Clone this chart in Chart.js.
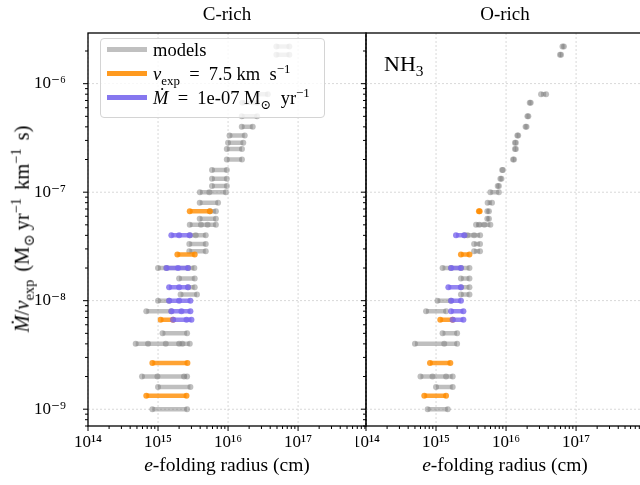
<!DOCTYPE html>
<html>
<head>
<meta charset="utf-8">
<script src="https://cdn.jsdelivr.net/npm/chart.js@4.4.1/dist/chart.umd.min.js"></script>
<style>
  body { margin: 0; width: 640px; height: 485px; overflow: hidden; position: relative; background: #fff;
         font-family: "Liberation Serif", "DejaVu Serif", serif; color: #000; }
  canvas { position: absolute; top: 0; }
  #cL { left: 0; }
  #cR { left: 356px; }
  .t { position: absolute; white-space: nowrap; font-size: 19px; line-height: 1; }
  .c { transform: translateX(-50%); }
  sub, sup { font-size: 70%; line-height: 0; }
  #legend { position: absolute; left: 100px; top: 38px; width: 225px; height: 80px; box-sizing: border-box;
            border: 1px solid #d4d4d4; border-radius: 4px; background: rgba(255,255,255,0.8); z-index: 5; }
  #legend .ln { position: absolute; left: 6px; width: 40px; height: 5px; }
  #legend .t { left: 52px; font-size: 18.5px; }
  #ylab { position: absolute; left: 22px; top: 229px; transform: translate(-50%, -50%) rotate(-90deg);
          white-space: nowrap; font-size: 20.5px; line-height: 1; word-spacing: 3px; }
</style>
</head>
<body>
<canvas id="cL" width="372" height="485"></canvas>
<canvas id="cR" width="300" height="485"></canvas>

<div class="t c" style="left:227px;top:4px">C-rich</div>
<div class="t c" style="left:505px;top:4px">O-rich</div>
<div class="t c" style="left:227px;top:455px;font-size:19.5px"><i>e</i>-folding radius (cm)</div>
<div class="t c" style="left:505px;top:455px;font-size:19.5px"><i>e</i>-folding radius (cm)</div>
<div id="ylab"><i>Ṁ</i>/<i>v</i><sub>exp</sub> (M<sub>⊙</sub>&thinsp;yr<sup>−1</sup> km<sup>−1</sup> s)</div>
<div class="t" style="left:384px;top:53px;font-size:22px">NH<sub>3</sub></div>

<div id="legend">
  <div class="ln" style="top:7.5px;background:#c0c0c0"></div>
  <div class="t" style="top:1.5px">models</div>
  <div class="ln" style="top:31.5px;background:#ff9a1f"></div>
  <div class="t" style="top:25.5px"><i>v</i><sub>exp</sub>&ensp;=&ensp;7.5 km&ensp;s<sup>−1</sup></div>
  <div class="ln" style="top:55.5px;background:#8677ef"></div>
  <div class="t" style="top:49.5px"><i>Ṁ</i>&ensp;=&ensp;1e-07 M<sub>⊙</sub>&ensp;yr<sup>−1</sup></div>
</div>

<script>
// Mdot/vexp of each model row (Msun/yr per km/s)
const modelY = [1e-9, 1.6e-9, 2e-9, 4e-9, 5e-9, 8e-9, 1e-8, 1.14e-8, 1.33e-8, 1.6e-8, 2e-8,
  2.86e-8, 3.33e-8, 4e-8, 5e-8, 5.7e-8, 6.67e-8, 8e-8, 1e-7, 1.14e-7, 1.33e-7, 1.6e-7,
  2e-7, 2.5e-7, 2.86e-7, 3.33e-7, 4e-7, 5e-7, 6.67e-7, 8e-7, 1.85e-6, 2.2e-6];

// e-folding radii (cm) per row, C-rich panel
const cRichModelR = [
  [8.3e14, 2.6e15], [1.0e15, 2.9e15], [5.9e14, 9.8e14, 2.35e15, 2.6e15],
  [4.8e14, 7.2e14, 1.29e15, 2.0e15, 2.23e15, 2.84e15], [1.16e15, 2.6e15], [6.8e14, 1.55e15],
  [1.0e15, 1.44e15], [2.1e15, 3.6e15], [2.68e15, 3.34e15], [2.0e15, 3.34e15],
  [1.0e15, 1.32e15, 2.68e15, 3.3e15], [2.8e15, 4.8e15], [2.8e15, 4.8e15],
  [2.84e15, 3.46e15, 4.8e15], [2.84e15, 4.1e15, 5.1e15, 6.7e15], [3.94e15, 6.7e15],
  [5.5e15, 6.7e15], [3.94e15, 7.2e15], [3.96e15, 5.4e15, 9.3e15], [5.9e15, 9.6e15],
  [5.9e15, 9.6e15], [5.9e15, 9.6e15], [9.6e15, 1.58e16], [9.6e15, 1.58e16],
  [1.0e16, 1.65e16], [1.05e16, 1.73e16], [1.57e16, 2.25e16], [1.57e16, 2.6e16],
  [1.6e16, 2.6e16], [2.6e16, 3.7e16], [4.9e16, 7.5e16], [4.9e16, 7.5e16]
];

// e-folding radii (cm) per row, O-rich panel (NH3)
const oRichModelR = [
  [7.6e14, 1.47e15], [1.0e15, 1.73e15], [6.0e14, 8.9e14, 1.39e15, 1.73e15],
  [5.0e14, 1.31e15, 2.0e15], [1.24e15, 2.0e15], [7.2e14, 1.39e15],
  [1.05e15, 1.64e15], [2.27e15, 3.0e15], [2.27e15, 3.0e15], [2.27e15, 3.0e15],
  [1.24e15, 1.64e15, 2.27e15, 3.0e15], [3.5e15, 4.25e15], [3.5e15, 4.25e15],
  [2.54e15, 2.82e15, 3.5e15, 4.26e15], [3.73e15, 4.16e15, 4.9e15, 5.97e15], [5.4e15, 5.7e15],
  [5.4e15, 5.7e15], [5.46e15, 6.3e15], [5.97e15, 7.9e15], [7.6e15, 7.9e15],
  [8.3e15, 8.6e15], [8.8e15, 9.0e15], [1.26e16, 1.3e16], [1.34e16, 1.38e16],
  [1.34e16, 1.38e16], [1.45e16, 1.49e16], [1.9e16, 1.96e16], [2.02e16, 2.08e16],
  [2.18e16, 2.25e16], [3.16e16, 3.73e16], [5.9e16, 6.1e16], [6.4e16, 6.7e16]
];

// rows with vexp = 7.5 km/s
const vexpY = [1.33e-9, 2.67e-9, 6.67e-9, 2.67e-8, 6.67e-8];
const cRichVexpR = [[6.8e14, 2.55e15], [8.3e14, 2.63e15], [1.09e15, 1.64e15], [1.89e15, 3.34e15], [2.84e15, 5.5e15]];
const oRichVexpR = [[6.8e14, 1.39e15], [8.2e14, 1.6e15], [1.15e15, 1.73e15], [2.27e15, 3.0e15], [4.1e15, 4.2e15]];

// rows with Mdot = 1e-7 Msun/yr
const mdotY = [6.67e-9, 8e-9, 1e-8, 1.33e-8, 2e-8, 4e-8];
const cRichMdotR = [[1.64e15, 2.55e15, 3.0e15], [1.55e15, 2.16e15, 2.9e15], [1.44e15, 2.0e15, 2.9e15],
  [1.44e15, 2.0e15, 2.68e15], [1.32e15, 1.93e15, 2.68e15], [1.55e15, 2.0e15, 2.84e15]];
const oRichMdotR = [[1.73e15, 2.46e15], [1.64e15, 2.46e15], [1.64e15, 2.27e15],
  [1.5e15, 2.27e15], [1.64e15, 2.27e15], [1.93e15, 2.54e15]];

const xLimits = [1e14, Math.pow(10, 17.97)];
const yLimits = [Math.pow(10, -9.154), Math.pow(10, -5.533)];

const COL_MODEL = 'rgba(128,128,128,0.5)';
const COL_VEXP = 'rgba(255,140,0,0.8)';
const COL_MDOT = 'rgba(123,104,238,0.8)';
const FONT = '"Liberation Serif", "DejaVu Serif", serif';

const SUP = { '0': '⁰', '1': '¹', '2': '²', '3': '³', '4': '⁴', '5': '⁵', '6': '⁶', '7': '⁷', '8': '⁸', '9': '⁹', '-': '⁻' };
const powLabel = (v) => {
  const l = Math.log10(v);
  const n = Math.round(l);
  if (Math.abs(l - n) > 1e-6) return '';
  return '10' + String(n).split('').map(c => SUP[c]).join('');
};

// rows -> points, with a null between rows so the lines break
const toPoints = (ys, rs) => {
  const pts = [];
  ys.forEach((y, i) => {
    if (!rs[i] || !rs[i].length) return;
    rs[i].forEach(r => pts.push({ x: r, y: y }));
    pts.push({ x: rs[i][0], y: null });
  });
  return pts;
};

const rowSet = (data, color, order) => ({
  data: data,
  borderColor: color,
  backgroundColor: color,
  pointBackgroundColor: color,
  borderWidth: 4.5,
  pointRadius: 3,
  pointBorderWidth: 0,
  pointHoverRadius: 3,
  spanGaps: false,
  order: order
});

// frame, dotted major grid, and matplotlib-like major/minor ticks
const framePlugin = {
  id: 'frame',
  beforeDatasetsDraw(chart) {
    const { ctx, chartArea: a, scales } = chart;
    ctx.save();
    ctx.strokeStyle = '#cfcfcf';
    ctx.lineWidth = 0.8;
    ctx.setLineDash([2, 2]);
    for (let e = 14; e <= 18; e++) {
      const px = scales.x.getPixelForValue(Math.pow(10, e));
      if (px < a.left - 0.5 || px > a.right + 0.5) continue;
      ctx.beginPath(); ctx.moveTo(px, a.top); ctx.lineTo(px, a.bottom); ctx.stroke();
    }
    for (let e = -9; e <= -5; e++) {
      const py = scales.y.getPixelForValue(Math.pow(10, e));
      if (py < a.top - 0.5 || py > a.bottom + 0.5) continue;
      ctx.beginPath(); ctx.moveTo(a.left, py); ctx.lineTo(a.right, py); ctx.stroke();
    }
    ctx.restore();
  },
  afterDatasetsDraw(chart) {
    const { ctx, chartArea: a, scales } = chart;
    ctx.save();
    ctx.strokeStyle = '#000';
    ctx.lineWidth = 1.3;
    ctx.strokeRect(a.left, a.top, a.right - a.left, a.bottom - a.top);
    ctx.lineWidth = 1;
    for (let e = 14; e <= 18; e++) {
      for (let k = 1; k <= 9; k++) {
        const px = scales.x.getPixelForValue(k * Math.pow(10, e));
        if (px < a.left - 0.5 || px > a.right + 0.5) continue;
        const len = k === 1 ? 5 : 3;
        ctx.beginPath(); ctx.moveTo(px, a.bottom); ctx.lineTo(px, a.bottom + len); ctx.stroke();
      }
    }
    for (let e = -10; e <= -5; e++) {
      for (let k = 1; k <= 9; k++) {
        const py = scales.y.getPixelForValue(k * Math.pow(10, e));
        if (py < a.top - 0.5 || py > a.bottom + 0.5) continue;
        const len = k === 1 ? 5 : 3;
        ctx.beginPath(); ctx.moveTo(a.left, py); ctx.lineTo(a.left - len, py); ctx.stroke();
      }
    }
    ctx.restore();
  }
};

const noPad = (s) => { s.paddingLeft = 0; s.paddingRight = 0; s.paddingTop = 0; s.paddingBottom = 0; };

const makeChart = (id, modelR, vexpR, mdotR, showYLabels, yWidth, padRight) => {
  return new Chart(document.getElementById(id), {
    type: 'line',
    data: {
      datasets: [
        rowSet(toPoints(modelY, modelR), COL_MODEL, 3),
        rowSet(toPoints(vexpY, vexpR), COL_VEXP, 2),
        rowSet(toPoints(mdotY, mdotR), COL_MDOT, 1)
      ]
    },
    options: {
      responsive: false,
      animation: false,
      events: [],
      layout: { padding: { top: 33, right: padRight, left: 0, bottom: 0 } },
      plugins: { legend: { display: false }, tooltip: { enabled: false } },
      scales: {
        x: {
          type: 'logarithmic',
          min: xLimits[0],
          max: xLimits[1],
          grid: { display: false, drawTicks: false },
          border: { display: false },
          ticks: {
            autoSkip: false, maxRotation: 0, padding: 6, color: '#000',
            font: { family: FONT, size: 17 },
            callback: (v) => powLabel(v)
          },
          afterFit: (s) => { s.height = 59; noPad(s); }
        },
        y: {
          type: 'logarithmic',
          min: yLimits[0],
          max: yLimits[1],
          grid: { display: false, drawTicks: false },
          border: { display: false },
          ticks: {
            display: showYLabels, autoSkip: false, padding: 22, color: '#000',
            font: { family: FONT, size: 17 },
            callback: (v) => powLabel(v)
          },
          afterFit: (s) => { s.width = yWidth; noPad(s); }
        }
      }
    },
    plugins: [framePlugin]
  });
};

makeChart('cL', cRichModelR, cRichVexpR, cRichMdotR, true, 88, 6);
makeChart('cR', oRichModelR, oRichVexpR, oRichMdotR, false, 10, 12);
</script>
</body>
</html>
